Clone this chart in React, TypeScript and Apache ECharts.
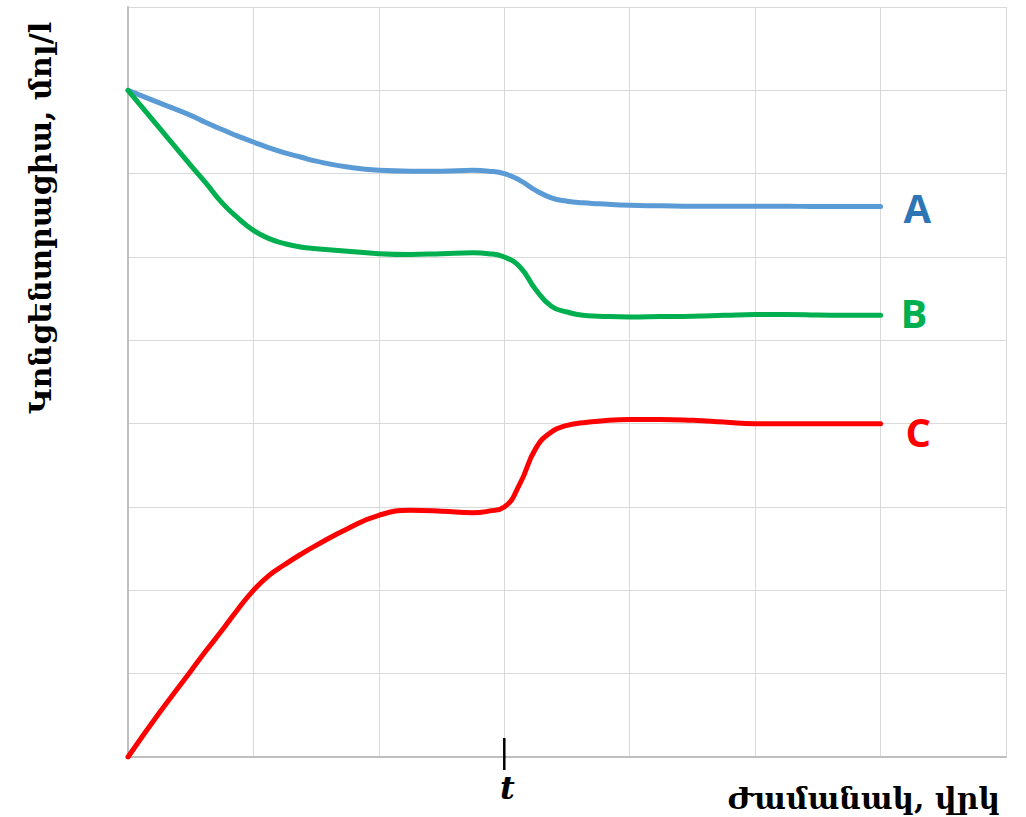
import React, { useEffect, useRef } from "react";
import * as echarts from "echarts";

const seriesNames = ["A", "B", "C"];
const lineColors = ["#5b9bd5", "#00b050", "#ff0000"];
const labelColors = ["#2e75b6", "#00b050", "#ff0000"];

const xs = [
  0, 0.25, 0.5, 0.625, 0.75, 0.875, 1, 1.125, 1.25, 1.375, 1.5, 1.75, 2, 2.25, 2.5, 2.75,
  2.875, 3, 3.125, 3.25, 3.375, 3.5, 3.625, 3.75, 4, 4.25, 4.5, 4.75, 5, 5.25, 5.5, 5.75, 6,
];
const valuesA = [
  8.0, 7.85, 7.7, 7.61, 7.53, 7.45, 7.38, 7.31, 7.25, 7.2, 7.15, 7.08, 7.04, 7.03, 7.03, 7.04,
  7.03, 7.0, 6.92, 6.8, 6.71, 6.67, 6.65, 6.64, 6.62, 6.615, 6.61, 6.61, 6.61, 6.61, 6.605, 6.605, 6.605,
];
const valuesB = [
  8.0, 7.55, 7.1, 6.88, 6.65, 6.47, 6.32, 6.22, 6.16, 6.12, 6.1, 6.07, 6.04, 6.03, 6.04, 6.05,
  6.04, 6.0, 5.88, 5.61, 5.41, 5.34, 5.3, 5.29, 5.28, 5.285, 5.29, 5.3, 5.31, 5.31, 5.305, 5.3, 5.3,
];
const valuesC = [
  0, 0.53, 1.03, 1.28, 1.52, 1.77, 2.0, 2.18, 2.31, 2.43, 2.54, 2.74, 2.9, 2.96, 2.95, 2.93,
  2.95, 3.0, 3.28, 3.7, 3.9, 3.98, 4.01, 4.03, 4.05, 4.05, 4.04, 4.02, 4.0, 4.0, 4.0, 4.0, 4.0,
];
const allValues = [valuesA, valuesB, valuesC];
const labelOffsets: [number, number][] = [[3, 1], [0, -3], [5, 8]];

const tMark = 3;
const xAxisName = "Ժամանակ, վրկ";
const yAxisName = "Կոնցենտրացիա, մոլ/l";

export default function App() {
  const ref = useRef<HTMLDivElement>(null);
  useEffect(() => {
    if (!ref.current) return;
    const chart = echarts.init(ref.current, undefined, { renderer: "svg" });
    const option: any = {
      animation: false,
      backgroundColor: "#ffffff",
      grid: { left: 128, right: 20, top: 7, bottom: 60, containLabel: false },
      xAxis: {
        type: "value",
        min: 0,
        max: 7,
        interval: 1,
        axisLine: { show: true, lineStyle: { color: "#bfbfbf", width: 2 } },
        axisTick: { show: false },
        axisLabel: { show: false },
        splitLine: { show: true, lineStyle: { color: "#d9d9d9", width: 1 } },
      },
      yAxis: {
        type: "value",
        min: 0,
        max: 9,
        interval: 1,
        axisLine: { show: true, onZero: false, lineStyle: { color: "#bfbfbf", width: 2 } },
        axisTick: { show: false },
        axisLabel: { show: false },
        splitLine: { show: true, lineStyle: { color: "#d9d9d9", width: 1 } },
      },
      series: seriesNames.map((name, i) => ({
        name,
        type: "line",
        data: xs.map((x, j) => [x, allValues[i][j]]),
        smooth: 0.5,
        showSymbol: false,
        symbol: "none",
        lineStyle: { color: lineColors[i], width: 5, cap: "round", join: "round" },
        endLabel: {
          show: true,
          formatter: name,
          color: labelColors[i],
          fontFamily: "Open Sans, Liberation Sans, sans-serif",
          fontWeight: "bold",
          fontSize: 40,
          distance: 20,
          offset: labelOffsets[i],
        },
        z: 3,
      })),
    };
    chart.setOption(option);
    const p = chart.convertToPixel({ gridIndex: 0 }, [tMark, 0]) as number[];
    chart.setOption({
      graphic: [
        {
          type: "line",
          shape: { x1: p[0], y1: p[1] - 19, x2: p[0], y2: p[1] + 13 },
          style: { stroke: "#000000", lineWidth: 2.5 },
          z: 10,
        },
        {
          type: "text",
          x: p[0] + 3,
          y: p[1] + 31,
          style: {
            text: "t",
            fill: "#000000",
            font: "italic bold 32px 'DejaVu Serif', 'Liberation Serif', serif",
            align: "center",
            verticalAlign: "middle",
          },
        },
        {
          type: "text",
          x: 1000,
          y: 798,
          style: {
            text: xAxisName,
            fill: "#000000",
            font: "bold 30px 'DejaVu Serif', serif",
            align: "right",
            verticalAlign: "middle",
          },
        },
        {
          type: "text",
          x: 40,
          y: 218,
          rotation: Math.PI / 2,
          style: {
            text: yAxisName,
            fill: "#000000",
            font: "bold 30px 'DejaVu Serif', serif",
            align: "center",
            verticalAlign: "middle",
          },
        },
      ],
    });
    return () => chart.dispose();
  }, []);
  return (
    <div
      ref={ref}
      style={{ position: "absolute", left: 0, top: 0, width: 1026, height: 817 }}
    />
  );
}
